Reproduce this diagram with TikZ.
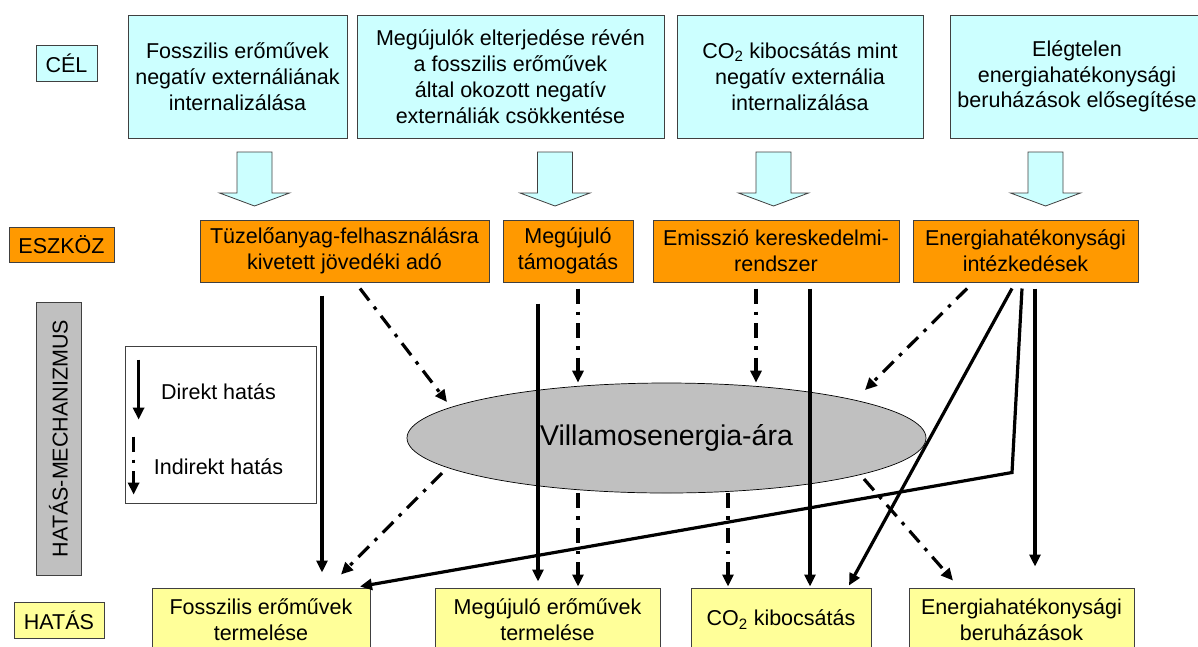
\documentclass[tikz,border=0pt]{standalone}
\usepackage{fontspec}
\setmainfont{Liberation Sans}
\usetikzlibrary{shapes.geometric,arrows.meta}
\definecolor{celszin}{HTML}{CCFFFF}
\definecolor{eszkszin}{HTML}{FF9900}
\definecolor{hatszin}{HTML}{FFFF99}
\definecolor{mechszin}{HTML}{C0C0C0}

\begin{document}
\begin{tikzpicture}[x=1pt, y=-1pt,
	font=\fontsize{21.5}{25.8}\selectfont,
	doboz/.style={draw=black!75, line width=1pt, align=center, inner sep=0pt},
	celbox/.style={doboz, fill=celszin, minimum height=123pt},
	eszkbox/.style={doboz, fill=eszkszin, minimum height=62pt},
	hatbox/.style={doboz, fill=hatszin, minimum height=63pt},
	direkt/.style={line width=3.2pt, -{Triangle[length=12pt,width=11pt]}},
	indirekt/.style={direkt, dash pattern=on 15pt off 8pt on 3.5pt off 8pt},
	vastagnyil/.pic={\draw[fill=celszin, draw=black!75, line width=0.8pt]
		(-17.5,0) -- (-17.5,41) -- (-35,41) -- (0,54) -- (35,41) -- (17.5,41) -- (17.5,0) -- cycle;}]
	
	\clip (0,0) rectangle (1198,646);
	
	% szintek
	\node[doboz, fill=celszin, minimum width=61pt, minimum height=36pt] (cel) at (66.5,63) {CÉL};
	\node[doboz, fill=eszkszin, minimum width=105pt, minimum height=35pt] (eszkoz) at (61.5,244.5) {ESZKÖZ};
	\node[doboz, fill=mechszin, minimum width=273pt, minimum height=45pt, rotate=90] (mechanizmus) at (58.5,438.5) {HATÁS-MECHANIZMUS};
	\node[doboz, fill=hatszin, minimum width=90pt, minimum height=36pt] (hatas) at (59,620) {HATÁS};
	
	% célok
	\node[celbox, minimum width=219pt] (cel1) at (237.5,76.5) {Fosszilis erőművek\\negatív externáliának\\internalizálása};
	\node[celbox, minimum width=307pt] (cel2) at (510.5,76.5) {Megújulók elterjedése révén\\a fosszilis erőművek\\által okozott negatív\\externáliák csökkentése};
	\node[celbox, minimum width=246pt] (cel3) at (800,76.5) {CO\textsubscript{2} kibocsátás mint\\negatív externália\\internalizálása};
	\node[celbox, minimum width=254pt] (cel4) at (1077,76.5) {Elégtelen\\energiahatékonysági\\beruházások elősegítése};
	
	\pic at (254.5,152) {vastagnyil}; %nagy nyilak
	\pic at (555,152) {vastagnyil};
	\pic at (773.5,152) {vastagnyil};
	\pic at (1045.5,152) {vastagnyil};
	
	% eszközök
	\node[eszkbox, minimum width=289pt] (eszk1) at (344.5,251) {Tüzelőanyag-felhasználásra\\kivetett jövedéki adó};
	\node[eszkbox, minimum width=130pt] (eszk2) at (568,251) {Megújuló\\támogatás};
	\node[eszkbox, minimum width=246pt] (eszk3) at (776,251) {Emisszió kereskedelmi-\\rendszer};
	\node[eszkbox, minimum width=225pt] (eszk4) at (1025.5,251) {Energiahatékonysági\\intézkedések};
	
	% jelmagyarázat
	\node[draw=black!75, line width=0.8pt, minimum width=191pt, minimum height=157pt] (jelmagy) at (220.5,424.5) {};
	\node[anchor=base] (jdirekt) at (218.5,399) {Direkt hatás};
	\node[anchor=base] (jindirekt) at (218.5,474) {Indirekt hatás};
	\draw[direkt] ([xshift=14pt,yshift=-14pt]jelmagy.north west) -- ++(0,60);
	\draw[indirekt] ([xshift=9pt,yshift=-91pt]jelmagy.north west) -- ++(0,58);
	
	% villamosenergia-ár
	\node[ellipse, draw=black, line width=0.7pt, fill=mechszin, minimum width=519pt, minimum height=110pt, inner sep=0pt,
		font=\fontsize{28.5}{34}\selectfont] (ar) at (666.5,438) {Villamosenergia-ára};
	
	% hatások
	\node[hatbox, minimum width=218pt] (hat1) at (261,619.5) {Fosszilis erőművek\\termelése};
	\node[hatbox, minimum width=225pt] (hat2) at (547.5,619.5) {Megújuló erőművek\\termelése};
	\node[hatbox, minimum width=180pt] (hat3) at (781,619.5) {CO\textsubscript{2} kibocsátás};
	\node[hatbox, minimum width=225pt] (hat4) at (1021.5,619.5) {Energiahatékonysági\\beruházások};
	
	% jövedéki adó
	\draw[direkt] ([xshift=-22.5pt,yshift=-13pt]eszk1.south) -- ([xshift=61pt,yshift=15pt]hat1.north);
	\draw[indirekt] ([xshift=15.5pt,yshift=-6pt]eszk1.south) -- ([xshift=-219.5pt,yshift=36pt]ar.center);
	\draw[indirekt] ([xshift=-224.5pt,yshift=-35pt]ar.center) -- ([xshift=80pt,yshift=13pt]hat1.north);
	
	% megújuló támogatás
	\draw[direkt] ([xshift=-30pt,yshift=-21pt]eszk2.south) -- ([xshift=-9.5pt,yshift=6pt]hat2.north);
	\draw[indirekt] ([xshift=10pt,yshift=-6pt]eszk2.south) -- ([xshift=-88.5pt]ar.north);
	\draw[indirekt] ([xshift=-88.5pt]ar.south) -- ([xshift=30.5pt,yshift=1pt]hat2.north);
	
	% emisszió kereskedelem
	\draw[indirekt] ([xshift=-20pt,yshift=-6pt]eszk3.south) -- ([xshift=89.5pt]ar.north);
	\draw[indirekt] ([xshift=61.5pt]ar.south) -- ([xshift=-53pt,yshift=1pt]hat3.north);
	\draw[direkt] ([xshift=34pt,yshift=-6pt]eszk3.south) -- ([xshift=29pt,yshift=1pt]hat3.north);
	
	% energiahatékonyság
	\draw[indirekt] ([xshift=-58.5pt,yshift=-6pt]eszk4.south) -- ([xshift=198.5pt,yshift=48pt]ar.center);
	\draw[direkt] ([xshift=-13.5pt,yshift=-6pt]eszk4.south) -- ([xshift=68pt,yshift=2pt]hat3.north);
	\draw[direkt] ([xshift=-3.5pt,yshift=-6pt]eszk4.south) -- ++(-10,184) -- ([xshift=99pt,yshift=1pt]hat1.north);
	\draw[direkt] ([xshift=9.5pt,yshift=-6pt]eszk4.south) -- ([xshift=13.5pt,yshift=21pt]hat4.north);
	\draw[indirekt] ([xshift=197.5pt,yshift=-41pt]ar.center) -- ([xshift=-68.5pt,yshift=7pt]hat4.north);
	
\end{tikzpicture}
\end{document}
